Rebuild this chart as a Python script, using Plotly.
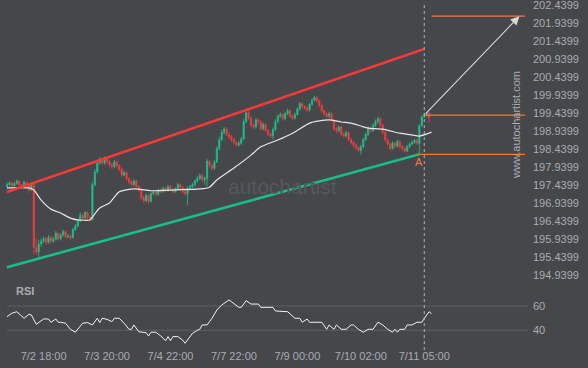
import plotly.graph_objects as go

# ---------------- data ----------------
first_open = 197.40
close = [197.45,197.50,197.42,197.48,197.55,197.44,197.40,197.52,197.46,197.30,
         197.45,195.70,195.58,195.80,195.88,195.95,195.85,195.98,195.88,195.93,
         196.10,195.95,196.05,196.15,196.00,196.02,195.98,196.20,196.30,196.45,
         196.60,196.52,196.68,196.55,196.48,197.45,197.80,198.05,198.15,198.05,
         198.18,198.10,198.00,197.95,198.08,197.98,197.88,197.72,197.78,197.62,
         197.52,197.45,197.55,197.40,197.30,197.10,197.00,197.15,196.98,197.20,
         197.25,197.18,197.30,197.26,197.35,197.28,197.40,197.32,197.26,197.33,
         197.45,197.38,197.25,197.20,197.35,197.40,197.45,197.55,197.62,197.70,
         197.58,197.62,198.10,197.98,197.90,198.08,198.45,198.70,198.90,199.00,
         198.85,198.78,198.70,198.62,198.55,198.60,198.72,199.20,199.45,199.30,
         199.10,199.05,199.25,199.20,199.00,199.12,198.95,198.85,198.80,198.98,
         199.20,199.35,199.40,199.28,199.42,199.50,199.35,199.30,199.40,199.55,
         199.70,199.62,199.58,199.52,199.68,199.80,199.88,199.78,199.65,199.50,
         199.42,199.35,199.42,199.25,199.00,198.95,199.05,198.85,198.80,198.90,
         198.70,198.62,198.55,198.48,198.40,198.50,198.70,198.85,199.02,198.95,
         199.10,199.20,199.28,199.10,198.90,198.70,198.58,198.45,198.60,198.52,
         198.65,198.50,198.45,198.38,198.50,198.58,198.62,198.68,198.60,199.10,
         199.33,199.38,199.43,199.30]
high = [197.52,197.55,197.53,197.52,197.60,197.57,197.47,197.56,197.54,197.49,
        197.52,197.50,195.96,195.92,195.96,196.02,196.00,196.05,196.02,196.00,
        196.16,196.13,196.10,196.20,196.18,196.08,196.06,196.25,196.36,196.50,
        196.68,196.65,196.72,196.70,196.60,197.52,197.88,198.12,198.22,198.20,
        198.24,198.22,198.14,198.05,198.14,198.12,198.02,197.92,197.84,197.82,
        197.66,197.58,197.60,197.58,197.44,197.34,197.14,197.20,197.18,197.25,
        197.30,197.28,197.35,197.34,197.40,197.38,197.45,197.43,197.36,197.38,
        197.50,197.48,197.42,197.30,197.40,197.45,197.50,197.60,197.68,197.76,
        197.74,197.68,198.16,198.14,198.02,198.14,198.52,198.78,198.98,199.05,
        199.04,198.90,198.82,198.75,198.66,198.66,198.78,199.28,199.52,199.50,
        199.34,199.15,199.30,199.30,199.24,199.18,199.16,199.00,198.90,199.04,
        199.26,199.40,199.46,199.44,199.48,199.56,199.54,199.40,199.45,199.60,
        199.75,199.74,199.66,199.62,199.72,199.85,199.92,199.90,199.82,199.70,
        199.54,199.46,199.48,199.46,199.28,199.05,199.10,199.08,198.90,198.95,
        198.94,198.75,198.66,198.60,198.52,198.56,198.75,198.90,199.08,199.06,
        199.15,199.26,199.34,199.32,199.14,198.94,198.74,198.62,198.66,198.64,
        198.70,198.68,198.55,198.50,198.55,198.62,198.68,198.72,198.72,199.12,
        199.38,199.45,199.46,199.47]
low = [197.36,197.42,197.38,197.40,197.45,197.41,197.35,197.38,197.42,197.22,
       197.27,195.52,195.50,195.41,195.72,195.82,195.78,195.80,195.82,195.84,
       195.90,195.90,195.90,196.00,195.95,195.96,195.92,195.95,196.15,196.25,
       196.40,196.45,196.48,196.45,196.42,196.45,197.40,197.75,198.00,197.98,
       198.00,198.02,197.94,197.88,197.90,197.92,197.82,197.66,197.68,197.56,
       197.46,197.40,197.40,197.35,197.25,197.02,196.95,196.96,196.92,196.95,
       197.15,197.12,197.14,197.20,197.22,197.24,197.25,197.28,197.20,197.22,
       197.30,197.33,197.20,197.15,196.88,197.30,197.36,197.40,197.50,197.58,
       197.52,197.45,197.40,197.92,197.84,197.86,198.05,198.40,198.66,198.85,
       198.80,198.72,198.64,198.56,198.50,198.50,198.56,198.68,199.15,199.25,
       199.04,198.98,199.00,199.12,198.94,198.95,198.90,198.80,198.74,198.70,
       198.94,199.15,199.30,199.22,199.24,199.38,199.30,199.24,199.26,199.36,
       199.50,199.56,199.52,199.46,199.48,199.64,199.76,199.72,199.60,199.44,
       199.36,199.30,199.30,199.20,198.95,198.88,198.90,198.80,198.74,198.76,
       198.65,198.56,198.48,198.42,198.34,198.28,198.45,198.66,198.80,198.90,
       198.92,199.05,199.15,199.05,198.85,198.64,198.52,198.40,198.42,198.46,
       198.48,198.45,198.40,198.34,198.35,198.46,198.54,198.58,198.55,198.29,
       199.05,199.30,199.34,199.18]
open_ = [first_open] + close[:-1]
bars = list(range(len(close)))

ma_bars = [0, 9, 11, 14, 18, 22, 26, 29, 34, 35, 38, 42, 46, 52, 59, 66, 79, 83, 86,
           93, 100, 104, 111, 117, 124, 128, 132, 137, 141, 145, 148, 154, 161, 166, 169, 174]
ma_vals = [197.36, 197.36, 197.30, 197.02, 196.77, 196.66, 196.52, 196.47, 196.47, 196.55,
           196.80, 196.94, 197.25, 197.33, 197.28, 197.30, 197.33, 197.38, 197.58,
           197.91, 198.27, 198.50, 198.69, 198.88, 199.16, 199.22, 199.25, 199.19, 199.16,
           199.08, 199.02, 198.99, 198.88, 198.83, 198.80, 198.91]

rsi_bars = [0, 2, 4, 7, 9, 10, 12, 15, 17, 18, 20, 21, 22, 24, 26, 28, 31, 33, 35, 37,
            38, 39, 41, 43, 44, 46, 48, 50, 51, 52, 54, 57, 58, 59, 61, 63, 65, 66, 67, 68,
            70, 72, 73, 76, 78, 79, 80, 82, 83, 84, 86, 88, 91, 93, 95, 96, 98, 100, 103,
            104, 109, 110, 115, 118, 120, 121, 123, 124, 129, 131, 132, 134, 135, 137, 139,
            141, 142, 144, 146, 148, 150, 152, 154, 156, 158, 159, 160, 161, 163, 164, 166,
            168, 170, 172, 173, 174]
rsi_vals = [51.2, 54.0, 55.3, 49.9, 53.2, 52.6, 44.9, 49.3, 49.3, 46.6, 49.3, 46.6, 46.6,
            45.8, 40.8, 38.4, 45.8, 46.3, 44.4, 49.9, 46.3, 49.9, 49.0, 47.1, 49.9, 49.9,
            45.8, 40.8, 40.8, 44.4, 38.8, 38.0, 35.3, 38.4, 38.4, 35.3, 31.4, 34.8, 31.4,
            34.8, 34.8, 31.9, 29.3, 37.5, 40.0, 40.8, 44.4, 44.4, 47.1, 49.9, 56.7, 60.8,
            65.0, 61.6, 58.9, 58.9, 64.4, 61.6, 61.6, 58.9, 58.9, 55.9, 55.3, 49.9, 49.9,
            46.6, 49.3, 46.6, 46.6, 40.8, 44.4, 40.8, 44.4, 40.8, 40.8, 44.4, 44.4, 40.8,
            38.4, 40.8, 40.8, 46.6, 44.4, 40.8, 38.4, 40.8, 38.4, 40.8, 40.8, 44.4, 44.4,
            46.6, 46.6, 52.6, 55.3, 53.7]

# channel end points (bar, price)
resist_bars = [0, 171]
resist_vals = [197.245, 201.218]
support_bars = [0, 169]
support_vals = [195.154, 198.293]

# levels
target_level = 202.13
entry_level = 199.38
pattern_low = 198.29
entry_bar = 171
target_bar = 210
pattern_bar = 169
level_end_bar = 212.3

price_ticks = ["194.9399", "195.4399", "195.9399", "196.4399", "196.9399", "197.4399",
               "197.9399", "198.4399", "198.9399", "199.4399", "199.9399", "200.4399",
               "200.9399", "201.4399", "201.9399", "202.4399"]
rsi_ticks = ["40", "60"]
time_labels = ["7/2 18:00", "7/3 20:00", "7/4 22:00", "7/7 22:00",
               "7/9 00:00", "7/10 02:00", "7/11 05:00"]
time_bars = [15, 41, 67, 93, 119, 145, 171]

# ---------------- style ----------------
BG = "#45474b"
TXT = "#a9acb1"
UP = "#1fbf8c"
DN = "#f03d3d"
ORANGE = "#f27a38"
FONT = "Liberation Sans, Arial, sans-serif"

W, H = 588, 368
ML, MR, MT, MB = 0, 60, 0, 20
PW, PH = W - ML - MR, H - MT - MB

fig = go.Figure()

fig.add_trace(go.Candlestick(
    x=bars, open=open_, high=high, low=low, close=close,
    increasing=dict(line=dict(color=UP, width=0.8), fillcolor=UP),
    decreasing=dict(line=dict(color=DN, width=0.8), fillcolor=DN),
    whiskerwidth=0, showlegend=False, hoverinfo="skip", yaxis="y"))

fig.add_trace(go.Scatter(x=ma_bars, y=ma_vals, mode="lines",
                         line=dict(color="#e6e6e6", width=1.2, shape="spline", smoothing=0.6),
                         showlegend=False, hoverinfo="skip", yaxis="y"))

fig.add_trace(go.Scatter(x=resist_bars, y=resist_vals, mode="lines",
                         line=dict(color="#f23a3a", width=2.6), showlegend=False,
                         hoverinfo="skip", yaxis="y"))
fig.add_trace(go.Scatter(x=support_bars, y=support_vals, mode="lines",
                         line=dict(color="#19bd86", width=2.6), showlegend=False,
                         hoverinfo="skip", yaxis="y"))

fig.add_trace(go.Scatter(x=rsi_bars, y=rsi_vals, mode="lines",
                         line=dict(color="#f2f2f2", width=1), showlegend=False,
                         hoverinfo="skip", yaxis="y2"))

x_min, x_max = -2.87, 213.52

shapes = []
for lvl, x0 in [(target_level, 174), (entry_level, entry_bar), (pattern_low, pattern_bar)]:
    shapes.append(dict(type="line", xref="x", yref="y", x0=x0, x1=level_end_bar,
                       y0=lvl, y1=lvl, line=dict(color=ORANGE, width=1.3)))
for t in rsi_ticks:
    v = float(t)
    shapes.append(dict(type="line", xref="x", yref="y2", x0=0, x1=x_max, y0=v, y1=v,
                       line=dict(color="#5d6163", width=1), layer="below"))
shapes.append(dict(type="line", xref="x", yref="paper", x0=entry_bar, x1=entry_bar,
                   y0=-0.006, y1=0.989, line=dict(color="#b5b5b5", width=1, dash="3px,3px")))

annotations = [
    dict(x=target_bar, y=target_level, ax=entry_bar, ay=entry_level, xref="x", yref="y",
         axref="x", ayref="y", text="", showarrow=True, arrowhead=2, arrowsize=1.6,
         arrowwidth=1.1, arrowcolor="#d8d8d8"),
    dict(x=pattern_bar, y=pattern_low, xref="x", yref="y", text="A", showarrow=False,
         yshift=-8, font=dict(color=ORANGE, size=11, family=FONT)),
    dict(x=14 / PW, y=(PH - 291) / PH, xref="paper", yref="paper", text="<b>RSI</b>",
         showarrow=False, xanchor="left", yanchor="middle",
         font=dict(color=TXT, size=11, family=FONT)),
    dict(x=282 / PW, y=(PH - 186) / PH, xref="paper", yref="paper", text="autochartist",
         showarrow=False, font=dict(color="#55585c", size=21, family=FONT)),
    dict(x=524 / PW, y=(PH - 69) / PH, xref="paper", yref="paper",
         text="www.autochartist.com", textangle=-90, showarrow=False,
         font=dict(color=TXT, size=11, family=FONT)),
]

fig.update_layout(
    width=W, height=H,
    margin=dict(l=ML, r=MR, t=MT, b=MB, pad=0, autoexpand=False),
    paper_bgcolor=BG, plot_bgcolor=BG,
    font=dict(family=FONT, color=TXT, size=11),
    showlegend=False,
    shapes=shapes, annotations=annotations,
    xaxis=dict(range=[x_min, x_max], rangeslider=dict(visible=False), anchor="y2",
               tickvals=time_bars, ticktext=time_labels, showgrid=False, zeroline=False,
               showline=False, ticks="", automargin=False,
               tickfont=dict(size=11, color=TXT)),
    yaxis=dict(domain=[1 - 280 / PH, 1], range=[194.801, 202.5788], side="right",
               tickvals=[float(t) for t in price_ticks], ticktext=price_ticks,
               showgrid=False, zeroline=False, showline=False, ticks="", automargin=False,
               ticklabeloverflow="allow", ticklabelstandoff=4,
               tickfont=dict(size=11, color=TXT)),
    yaxis2=dict(domain=[0, 63 / PH], range=[25.4, 77.3], side="right",
                tickvals=[float(t) for t in rsi_ticks], ticktext=rsi_ticks,
                showgrid=False, zeroline=False, showline=False, ticks="", automargin=False,
                ticklabeloverflow="allow", ticklabelstandoff=4,
                tickfont=dict(size=11, color=TXT)),
)

fig.write_html("out.html", config={"displayModeBar": False},
               post_script="document.body.style.margin='0';"
                           "document.body.style.background='#45474b';")
